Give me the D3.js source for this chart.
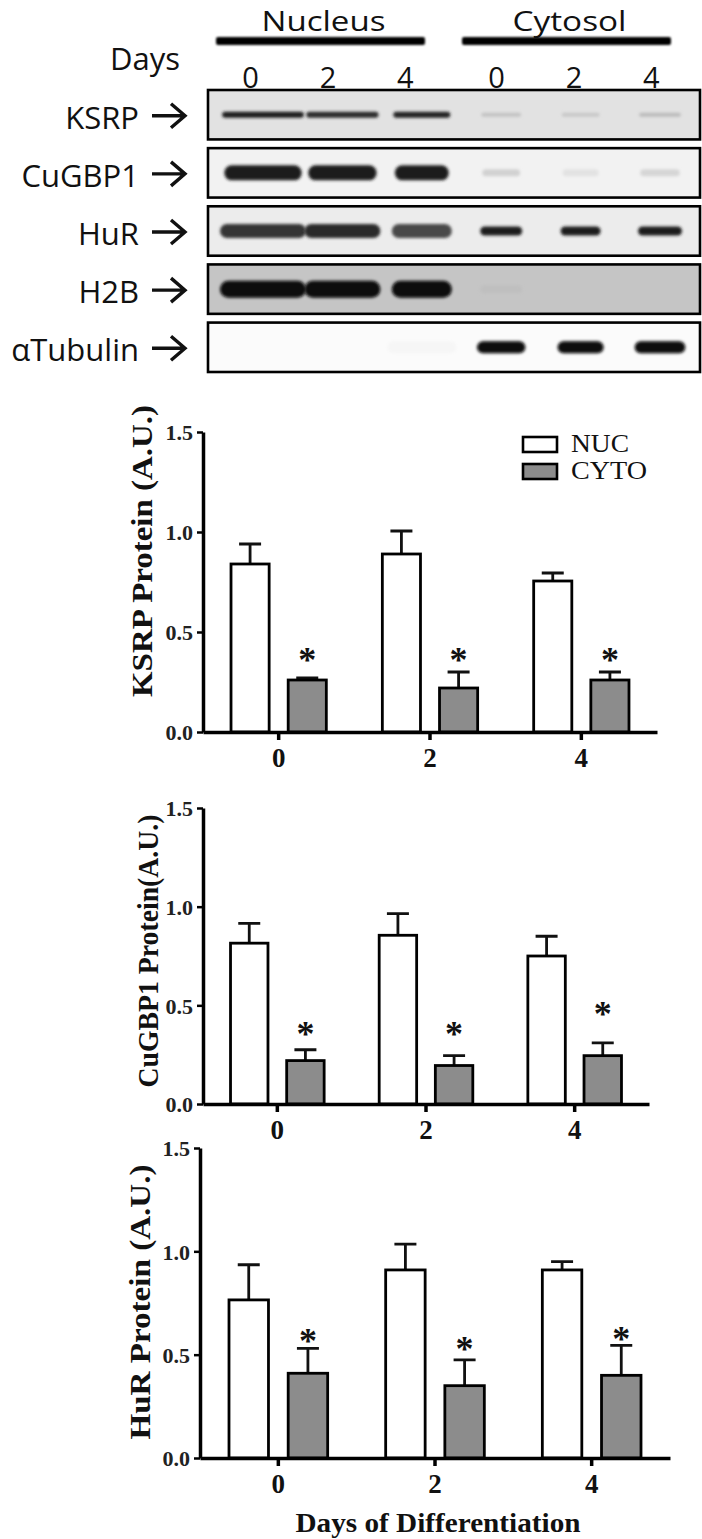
<!DOCTYPE html>
<html><head><meta charset="utf-8">
<script src="https://cdn.jsdelivr.net/npm/d3@7"></script>
<style>body{margin:0;background:#fff}svg{display:block}</style>
</head><body>
<svg id="c" width="702" height="1539"></svg>
<script>
// ---------------- DATA ----------------
const days = ["0", "2", "4"];
const series = ["NUC", "CYTO"];
const yTicks = [0, 0.5, 1.0, 1.5];

// Western blot (band intensity 0..1)
const fractions = ["Nucleus", "Cytosol"];
const blotProteins = ["KSRP", "CuGBP1", "HuR", "H2B", "αTubulin"];
const blotLanes = ["N0", "N2", "N4", "C0", "C2", "C4"];
const ksrpBands     = [0.90, 0.85, 0.88, 0.14, 0.12, 0.18];
const cugbp1Bands   = [0.92, 0.92, 0.90, 0.14, 0.07, 0.12];
const hurBands      = [0.80, 0.85, 0.72, 0.90, 0.90, 0.90];
const h2bBands      = [1.00, 1.00, 1.00, 0.03, 0.00, 0.00];
const tubulinBands  = [0.00, 0.00, 0.02, 1.00, 1.00, 1.00];

// KSRP protein
const ksrpNuc = [0.84, 0.89, 0.755];
const ksrpNucErr = [0.10, 0.115, 0.04];
const ksrpCyto = [0.26, 0.22, 0.26];
const ksrpCytoErr = [0.01, 0.08, 0.04];
const ksrpStar = [0.385, 0.385, 0.385];

// CuGBP1 protein
const cugNuc = [0.815, 0.855, 0.75];
const cugNucErr = [0.10, 0.11, 0.10];
const cugCyto = [0.22, 0.195, 0.245];
const cugCytoErr = [0.055, 0.05, 0.065];
const cugStar = [0.378, 0.378, 0.48];

// HuR protein
const hurNuc = [0.765, 0.91, 0.91];
const hurNucErr = [0.17, 0.125, 0.04];
const hurCyto = [0.41, 0.35, 0.40];
const hurCytoErr = [0.12, 0.125, 0.145];
const hurStar = [0.588, 0.553, 0.601];

// ---------------- DRAW ----------------
const svg = d3.select("#c");
const SANS = "'Open Sans', 'DejaVu Sans', sans-serif";
const SERIF = "'Liberation Serif', 'Times New Roman', serif";

const defs = svg.append("defs");
defs.append("filter").attr("id", "blur").attr("x", "-20%").attr("y", "-80%").attr("width", "140%").attr("height", "260%")
  .append("feGaussianBlur").attr("stdDeviation", 1.8);
defs.append("filter").attr("id", "soft").attr("x", "-5%").attr("y", "-50%").attr("width", "110%").attr("height", "200%")
  .append("feGaussianBlur").attr("stdDeviation", 0.8);

// ---- blot section ----
const fracX = d3.scaleBand().domain(fractions).range([208, 700]);
const dayX = d3.scalePoint().domain(days).range([0, 240]).padding(0.55);
const rowY = d3.scaleBand().domain(blotProteins).range([90, 372]).paddingInner(0.15);
const laneX = d3.scalePoint().domain(blotLanes).range([263, 660]);

const blotData = {"KSRP": ksrpBands, "CuGBP1": cugbp1Bands, "HuR": hurBands, "H2B": h2bBands, "αTubulin": tubulinBands};
const rowBg = {"KSRP": "#e2e2e2", "CuGBP1": "#f2f2f2", "HuR": "#ececec", "H2B": "#c5c5c5", "αTubulin": "#fbfbfb"};
const rowThick = {"KSRP": [6, 4], "CuGBP1": [15, 7], "HuR": [14, 9], "H2B": [17, 8], "αTubulin": [12, 12]};
const laneWidth = [86, 76, 60, 42, 40, 44];
const rowWidthK = {"KSRP": 0.95, "CuGBP1": 0.9, "HuR": 1.0, "H2B": 1.0, "αTubulin": 1.15};

// headers
const hdr = svg.append("g");
fractions.forEach(f => {
  const x0 = fracX(f) + 8, x1 = fracX(f) + fracX.bandwidth() - 29;
  hdr.append("rect").attr("x", x0).attr("y", 37).attr("width", x1 - x0).attr("height", 8)
    .attr("rx", 2).attr("fill", "#000").attr("filter", "url(#soft)");
  hdr.append("text").attr("x", (x0 + x1) / 2 + 3).attr("y", 30.5).attr("text-anchor", "middle")
    .attr("font-family", SANS).attr("font-size", 28).attr("fill", "#111")
    .attr("textLength", f === "Nucleus" ? 124 : 114).attr("lengthAdjust", "spacingAndGlyphs").text(f);
  days.forEach(d => {
    hdr.append("text").attr("x", fracX(f) + dayX(d)).attr("y", 88).attr("text-anchor", "middle")
      .attr("font-family", SANS).attr("font-size", 29).attr("fill", "#111").text(d);
  });
});
hdr.append("text").attr("x", 180).attr("y", 70).attr("text-anchor", "end")
  .attr("font-family", SANS).attr("font-size", 31).attr("fill", "#111").text("Days");

// rows
blotProteins.forEach(p => {
  const y = rowY(p), h = rowY.bandwidth(), cy = y + h / 2;
  const g = svg.append("g");
  g.append("rect").attr("x", 208).attr("y", y).attr("width", 492).attr("height", h)
    .attr("fill", rowBg[p]);
  const col = d3.interpolateRgb(rowBg[p], "#080808");
  g.selectAll("rect.band").data(blotData[p].map((v, i) => ({v, i})).filter(d => d.v > 0))
    .join("rect").attr("class", "band")
    .attr("x", d => laneX(blotLanes[d.i]) - laneWidth[d.i] * rowWidthK[p] / 2)
    .attr("width", d => laneWidth[d.i] * rowWidthK[p])
    .attr("y", d => cy - rowThick[p][d.i < 3 ? 0 : 1] / 2)
    .attr("height", d => rowThick[p][d.i < 3 ? 0 : 1])
    .attr("rx", d => rowThick[p][d.i < 3 ? 0 : 1] / 2)
    .attr("fill", d => col(d.v))
    .attr("filter", "url(#blur)");
  g.append("rect").attr("x", 208).attr("y", y).attr("width", 492).attr("height", h)
    .attr("fill", "none").attr("stroke", "#000").attr("stroke-width", 2.6);
  g.append("text").attr("x", 139).attr("y", cy + 14).attr("text-anchor", "end")
    .attr("font-family", SANS).attr("font-size", 31).attr("fill", "#111").text(p);
  g.append("path")
    .attr("d", `M152,${cy + 1}H184M171,${cy - 11}L185,${cy + 1}L171,${cy + 13}`)
    .attr("fill", "none").attr("stroke", "#111").attr("stroke-width", 3.4);
});

// ---- bar panels ----
const panels = [
  {label: "KSRP Protein (A.U.)", nuc: ksrpNuc, nucErr: ksrpNucErr, cyto: ksrpCyto, cytoErr: ksrpCytoErr, star: ksrpStar,
   x0: 203, x1: 657, yTop: 432, y0: 732, labelX: 152, labelY: 551, labelLen: 292, legend: true},
  {label: "CuGBP1 Protein(A.U.)", nuc: cugNuc, nucErr: cugNucErr, cyto: cugCyto, cytoErr: cugCytoErr, star: cugStar,
   x0: 203, x1: 649, yTop: 808, y0: 1104, labelX: 158, labelY: 951, labelLen: 273, legend: false},
  {label: "HuR Protein (A.U.)", nuc: hurNuc, nucErr: hurNucErr, cyto: hurCyto, cytoErr: hurCytoErr, star: hurStar,
   x0: 200, x1: 670, yTop: 1148, y0: 1458, labelX: 150, labelY: 1302, labelLen: 275, legend: false}
];
const fills = {"NUC": "#ffffff", "CYTO": "#8c8c8c"};

panels.forEach(P => {
  const g = svg.append("g");
  const x = d3.scaleBand().domain(days).range([P.x0, P.x1]);
  const xs = d3.scaleBand().domain(series).range([0, x.bandwidth()]).paddingInner(0.333).paddingOuter(0.49);
  const y = d3.scaleLinear().domain([0, 1.5]).range([P.y0, P.yTop]);

  const rows = [];
  days.forEach((d, i) => {
    rows.push({d, s: "NUC", v: P.nuc[i], e: P.nucErr[i]});
    rows.push({d, s: "CYTO", v: P.cyto[i], e: P.cytoErr[i], star: P.star[i]});
  });
  const cx = r => x(r.d) + xs(r.s) + xs.bandwidth() / 2;

  // error bars
  g.selectAll("path.err").data(rows).join("path").attr("class", "err")
    .attr("d", r => `M${cx(r)},${y(r.v)}V${y(r.v + r.e)}M${cx(r) - 11},${y(r.v + r.e)}H${cx(r) + 11}`)
    .attr("fill", "none").attr("stroke", "#111").attr("stroke-width", 2.8);
  // bars
  g.selectAll("rect.bar").data(rows).join("rect").attr("class", "bar")
    .attr("x", r => x(r.d) + xs(r.s)).attr("width", xs.bandwidth())
    .attr("y", r => y(r.v)).attr("height", r => y(0) - y(r.v))
    .attr("fill", r => fills[r.s]).attr("stroke", "#000").attr("stroke-width", 2.8);
  // stars
  g.selectAll("text.star").data(rows.filter(r => r.star != null)).join("text").attr("class", "star")
    .attr("x", r => cx(r)).attr("y", r => y(r.star) + 17)
    .attr("text-anchor", "middle").attr("font-family", SERIF).attr("font-weight", "bold")
    .attr("font-size", 36).attr("fill", "#111").text("*");

  // axes
  const ya = g.append("g").attr("transform", `translate(${P.x0},0)`)
    .call(d3.axisLeft(y).tickValues(yTicks).tickFormat(d3.format(".1f")).tickSize(6).tickSizeOuter(0).tickPadding(4));
  ya.select(".domain").attr("stroke", "#000").attr("stroke-width", 3.5);
  ya.selectAll(".tick line").attr("stroke", "#000").attr("stroke-width", 2.5);
  ya.selectAll(".tick text").attr("font-family", SERIF).attr("font-weight", "bold").attr("font-size", 22)
    .attr("fill", "#222").attr("dy", "0.36em");

  const xa = g.append("g").attr("transform", `translate(0,${P.y0})`)
    .call(d3.axisBottom(x).tickSize(8).tickSizeOuter(0).tickPadding(0));
  xa.select(".domain").attr("stroke", "#000").attr("stroke-width", 3.5);
  xa.selectAll(".tick line").attr("stroke", "#000").attr("stroke-width", 3.5);
  xa.selectAll(".tick text").attr("font-family", SERIF).attr("font-weight", "bold").attr("font-size", 27)
    .attr("fill", "#111").attr("y", 35).attr("dy", null);

  // y label
  g.append("text").attr("transform", `translate(${P.labelX},${P.labelY}) rotate(-90)`)
    .attr("text-anchor", "middle").attr("font-family", SERIF).attr("font-weight", "bold")
    .attr("font-size", 29).attr("fill", "#111")
    .attr("textLength", P.labelLen).attr("lengthAdjust", "spacingAndGlyphs").text(P.label);

  if (P.legend) {
    const lg = g.append("g");
    series.forEach((s, i) => {
      lg.append("rect").attr("x", 523).attr("y", 437 + i * 27).attr("width", 34).attr("height", 15)
        .attr("fill", fills[s]).attr("stroke", "#000").attr("stroke-width", 2.6);
      lg.append("text").attr("x", 571).attr("y", 452 + i * 27)
        .attr("font-family", SERIF).attr("font-size", 25).attr("fill", "#111")
        .attr("textLength", i === 0 ? 58 : 76).attr("lengthAdjust", "spacingAndGlyphs").text(s);
    });
  }
});

svg.append("text").attr("x", 438).attr("y", 1532).attr("text-anchor", "middle")
  .attr("font-family", SERIF).attr("font-weight", "bold").attr("font-size", 28).attr("fill", "#111")
  .attr("textLength", 285).attr("lengthAdjust", "spacingAndGlyphs").text("Days of Differentiation");
</script>
</body></html>
